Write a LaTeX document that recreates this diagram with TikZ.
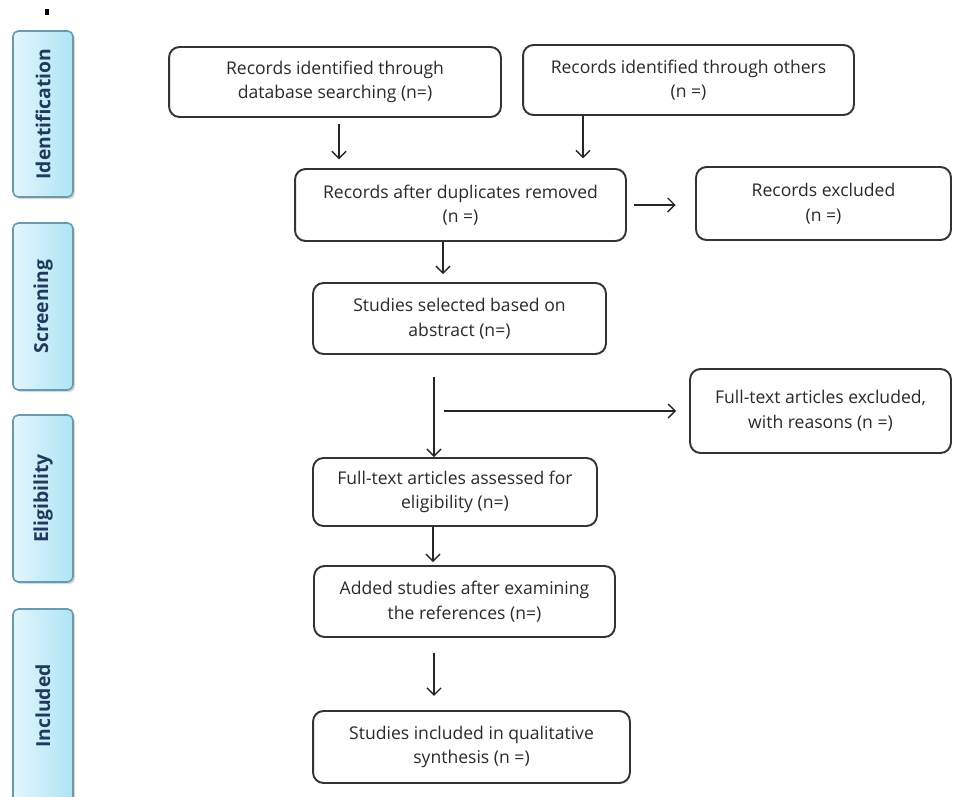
\documentclass[tikz,border=0pt]{standalone}
\usepackage{fontspec}
\setmainfont{Open Sans}
\usetikzlibrary{arrows.meta,shadows}

\definecolor{phaseline}{HTML}{6D9AAB}
\definecolor{phaseleft}{HTML}{E2F6FC}
\definecolor{phaseright}{HTML}{AEE4F5}
\definecolor{phasetext}{HTML}{1F3A5C}
\definecolor{boxtext}{HTML}{2A2A2A}

\tikzset{
    flowbox/.style={draw=black!80, line width=1.1pt, rounded corners=6pt, fill=white,
        align=center, text=boxtext, inner sep=0pt, font=\fontsize{10}{14}\selectfont},
    phase/.style={draw=phaseline, line width=0.9pt, rounded corners=3pt,
        left color=phaseleft, right color=phaseright, minimum width=1.2cm,
        text=phasetext, font=\bfseries\fontsize{11}{13}\selectfont,
        drop shadow={shadow xshift=1.2pt, shadow yshift=-1.2pt, opacity=0.3}},
    flow/.style={->, line width=0.8pt, black!85}
}

\begin{document}
\begin{tikzpicture}[x=0.02cm,y=-0.02cm,thick,>={Straight Barb[length=4pt,width=8pt]}]
        \useasboundingbox (0,0) rectangle (954,797);
        \draw[line width=2.2pt] (47,9) -- (47,15);
        % phases on the left
        \node[phase, minimum height=3.32cm] (ident) at (43,114) {\rotatebox{90}{Identification}};
        \node[phase, minimum height=3.34cm] (screen) at (43,306.5) {\rotatebox{90}{Screening}};
        \node[phase, minimum height=3.34cm] (elig) at (43,498.5) {\rotatebox{90}{Eligibility}};
        \node[phase, minimum height=3.88cm] (incl) at (43,706) {\rotatebox{90}{Included}};
        % flow boxes
        \node[flowbox, minimum width=6.64cm, minimum height=1.40cm] (db) at (335,82) {Records identified through\\database searching (n=)};
        \node[flowbox, minimum width=6.62cm, minimum height=1.40cm] (others) at (688.5,80) {Records identified through others\\(n =)};
        \node[flowbox, minimum width=6.62cm, minimum height=1.44cm] (dupl) at (460.5,205) {Records after duplicates removed\\(n =)};
        \node[flowbox, minimum width=5.10cm, minimum height=1.46cm] (recexcl) at (823.5,203.5) {Records excluded\\(n =)};
        \node[flowbox, minimum width=5.86cm, minimum height=1.42cm] (abstr) at (459.5,318.5) {Studies selected based on\\abstract (n=)};
        \node[flowbox, minimum width=5.22cm, minimum height=1.68cm] (ftexcl) at (820.5,411) {Full-text articles excluded,\\with reasons (n =)};
        \node[flowbox, minimum width=5.68cm, minimum height=1.36cm] (ftassess) at (455,492) {Full-text articles assessed for\\eligibility (n=)};
        \node[flowbox, minimum width=6.02cm, minimum height=1.42cm] (refs) at (464.5,601.5) {Added studies after examining\\the references (n=)};
        \node[flowbox, minimum width=6.34cm, minimum height=1.44cm] (synth) at (471.5,747) {Studies included in qualitative\\synthesis (n =)};
        % connectors
        \draw[flow, shorten <=3.4pt, shorten >=5pt] (db.south -| 339,0) -- (dupl.north -| 339,0);
        \draw[flow, shorten >=5.5pt] (others.south -| 583,0) -- (dupl.north -| 583,0);
        \draw[flow, shorten <=4pt, shorten >=11pt] (dupl.east) -- (recexcl.west |- dupl.east);
        \draw[flow, shorten >=4.5pt] (dupl.south -| 443,0) -- (abstr.north -| 443,0);
        \draw[flow, shorten <=12.5pt] (abstr.south -| 434,0) -- (ftassess.north -| 434,0);
        \coordinate (split) at (444,411);
        \draw[flow, shorten >=7.4pt] (split) -- (ftexcl.west);
        \draw[flow, shorten >=1.7pt] (ftassess.south -| 433,0) -- (refs.north -| 433,0);
        \draw[flow, shorten <=8.5pt, shorten >=8pt] (refs.south -| 434,0) -- (synth.north -| 434,0);
    \end{tikzpicture}
\end{document}
